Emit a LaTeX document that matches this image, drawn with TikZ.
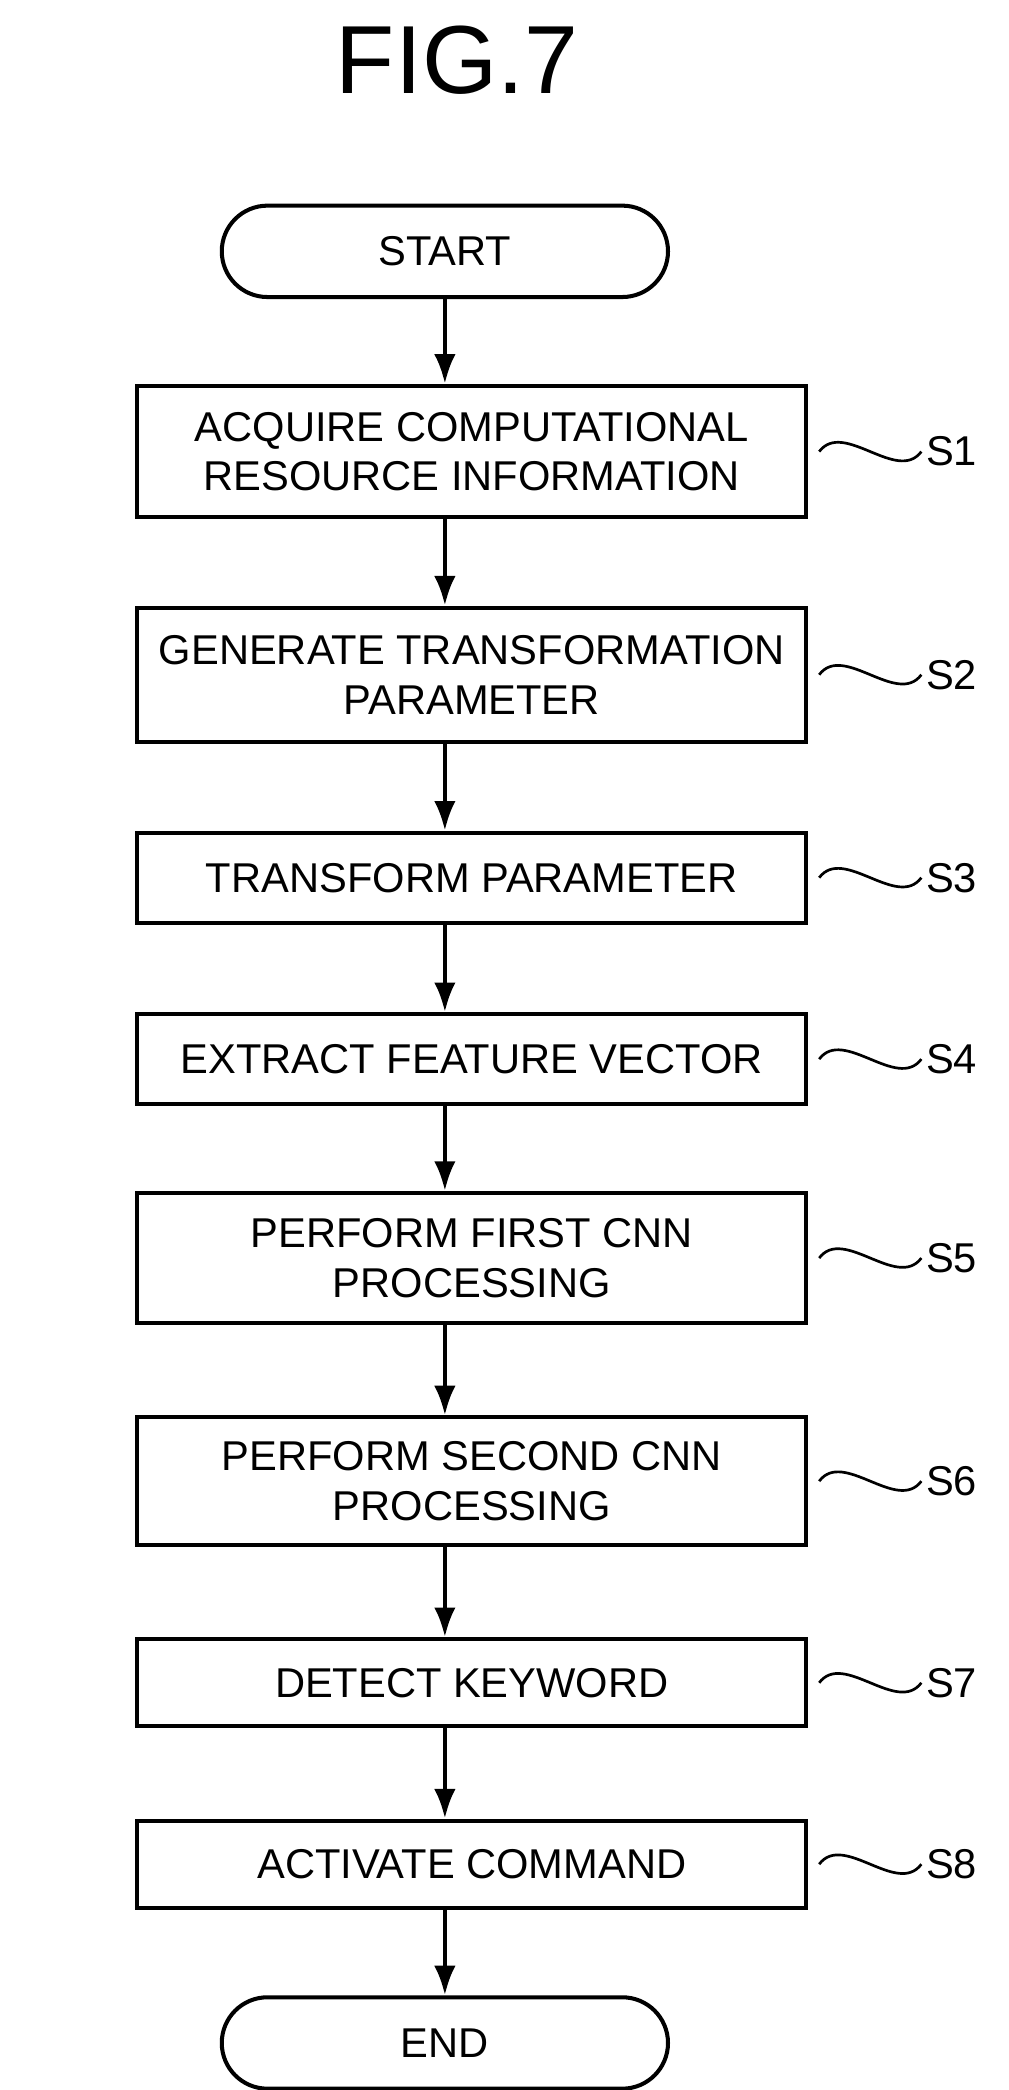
\documentclass[tikz,border=0pt]{standalone}
\usepackage{fontspec}
\setmainfont{Liberation Sans}
\usetikzlibrary{positioning,arrows.meta}
\tikzset{
  proc/.style={draw, line width=3pt, minimum width=498pt, align=center, font=\fontsize{31}{37}\selectfont},
  term/.style={draw, line width=3pt, rounded corners=34pt, minimum width=332pt, minimum height=68pt, font=\fontsize{31}{37}\selectfont},
  flow/.style={line width=3pt, -{Latex[length=22pt,width=16pt]}},
  tag/.style={font=\fontsize{31}{37}\selectfont, anchor=west},
  wave/.style={line width=2pt}
}
\begin{document}
\begin{tikzpicture}[x=1pt,y=-1pt]
  \useasboundingbox (0,0) rectangle (750,1555);

  % Title
  \node[font=\fontsize{72}{80}\selectfont] (title) at (340,45) {FIG.7};

  % Define nodes
  \node[term] (start) at (331,187) {START};
  \node[proc, minimum height=98pt] (s1) at (351,336) {ACQUIRE COMPUTATIONAL\\RESOURCE INFORMATION};
  \node[proc, minimum height=100pt] (s2) at (351,502) {GENERATE TRANSFORMATION\\PARAMETER};
  \node[proc, minimum height=67pt] (s3) at (351,653) {TRANSFORM PARAMETER};
  \node[proc, minimum height=67pt] (s4) at (351,788) {EXTRACT FEATURE VECTOR};
  \node[proc, minimum height=97pt] (s5) at (351,936) {PERFORM FIRST CNN\\PROCESSING};
  \node[proc, minimum height=95pt] (s6) at (351,1102) {PERFORM SECOND CNN\\PROCESSING};
  \node[proc, minimum height=65pt] (s7) at (351,1252) {DETECT KEYWORD};
  \node[proc, minimum height=65pt] (s8) at (351,1387) {ACTIVATE COMMAND};
  \node[term] (end) at (331,1520) {END};

  % Connect the nodes
  \draw[flow] (start) -- (start |- s1.north);
  \foreach \a/\b in {s1/s2, s2/s3, s3/s4, s4/s5, s5/s6, s6/s7, s7/s8}
    \draw[flow] (start |- \a.south) -- (start |- \b.north);
  \draw[flow] (start |- s8.south) -- (end);

  % Step labels
  \foreach \s in {1,...,8} {
    \node[tag] (l\s) at ([xshift=84pt]s\s.east) {S\s};
    \draw[wave] ([xshift=8pt]s\s.east) .. controls +(18,-24) and +(-18,24) .. (l\s.west);
  }

\end{tikzpicture}
\end{document}
